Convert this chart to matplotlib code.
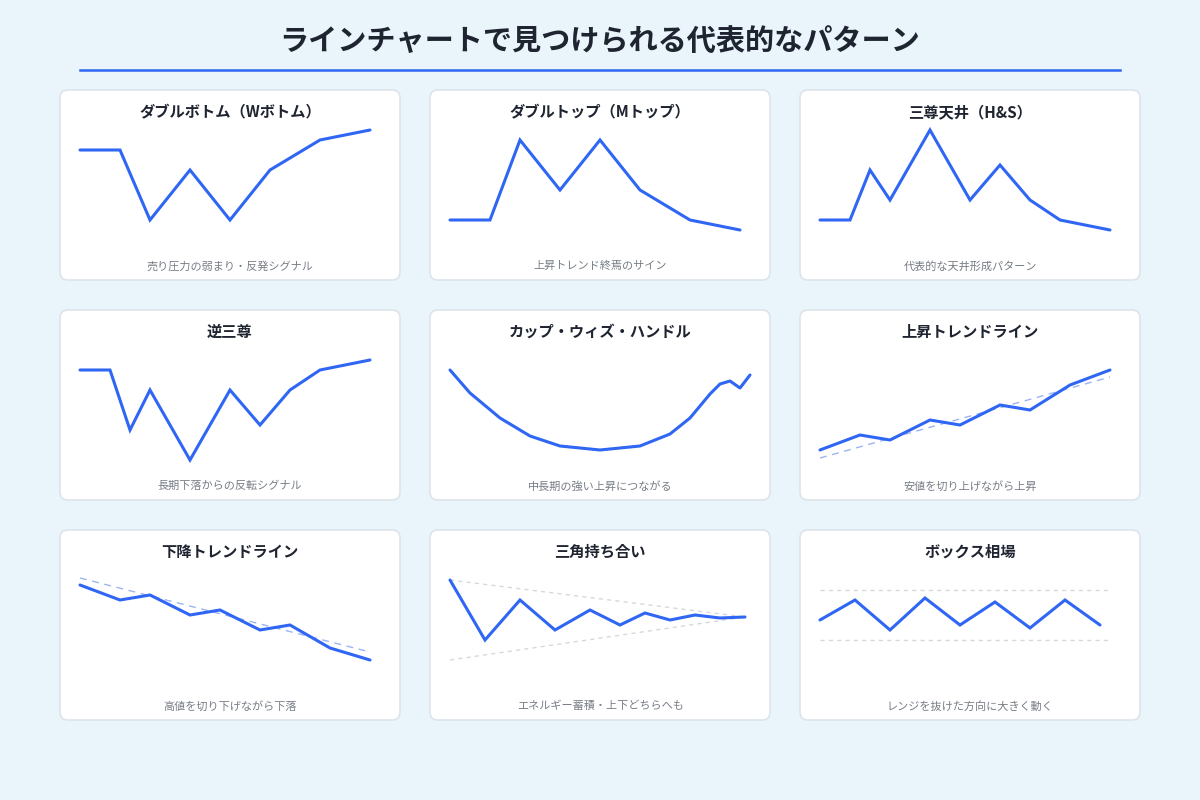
import matplotlib.pyplot as plt
from matplotlib.patches import FancyBboxPatch

plt.rcParams['font.family'] = ['Noto Sans CJK JP', 'DejaVu Sans']

BG = '#EAF4FB'
BLUE = '#2F66F3'

titles = ['ダブルボトム（Wボトム）', 'ダブルトップ（Mトップ）', '三尊天井（H&S）',
          '逆三尊', 'カップ・ウィズ・ハンドル', '上昇トレンドライン',
          '下降トレンドライン', '三角持ち合い', 'ボックス相場']
captions = ['売り圧力の弱まり・反発シグナル', '上昇トレンド終焉のサイン', '代表的な天井形成パターン',
            '長期下落からの反転シグナル', '中長期の強い上昇につながる', '安値を切り上げながら上昇',
            '高値を切り下げながら下落', 'エネルギー蓄積・上下どちらへも', 'レンジを抜けた方向に大きく動く']

# local panel coordinates (x from panel left, y from panel top, downwards)
series_x = [
    [20, 60, 90, 130, 170, 210, 260, 310],
    [20, 60, 90, 130, 170, 210, 260, 310],
    [20, 50, 70, 90, 130, 170, 200, 230, 260, 310],
    [20, 50, 70, 90, 130, 170, 200, 230, 260, 310],
    [20, 40, 70, 100, 130, 170, 210, 240, 260, 280, 290, 300, 310, 320],
    [20, 60, 90, 130, 160, 200, 230, 270, 310],
    [20, 60, 90, 130, 160, 200, 230, 270, 310],
    [20, 55, 90, 125, 160, 190, 215, 240, 265, 290, 315],
    [20, 55, 90, 125, 160, 195, 230, 265, 300],
]
series_y = [
    [60, 60, 130, 80, 130, 80, 50, 40],
    [130, 130, 50, 100, 50, 100, 130, 140],
    [130, 130, 80, 110, 40, 110, 75, 110, 130, 140],
    [60, 60, 120, 80, 150, 80, 115, 80, 60, 50],
    [60, 83, 108, 126, 136, 140, 136, 124, 108, 84, 74, 71, 78, 65],
    [140, 125, 130, 110, 115, 95, 100, 75, 60],
    [55, 70, 65, 85, 80, 100, 95, 118, 130],
    [50, 110, 70, 100, 80, 95, 83, 90, 85, 88, 87],
    [90, 70, 100, 68, 95, 72, 98, 70, 95],
]
# guide lines per panel: (x0, y0, x1, y1, style)
guides = {
    5: [(20, 148, 310, 67, 'trend')],
    6: [(20, 48, 310, 122, 'trend')],
    7: [(20, 50, 315, 87, 'range'), (20, 130, 315, 87, 'range')],
    8: [(20, 60, 310, 60, 'range'), (20, 110, 310, 110, 'range')],
}

fig = plt.figure(figsize=(12, 8), dpi=100, facecolor=BG)
ax = fig.add_axes([0, 0, 1, 1])
ax.set_xlim(0, 1200)
ax.set_ylim(800, 0)
ax.axis('off')
ax.set_facecolor(BG)

ax.text(600, 42, 'ラインチャートで見つけられる代表的なパターン', ha='center', va='center',
        fontsize=21, fontweight='bold', color='#1E2430')
ax.plot([80, 1120], [70, 70], color=BLUE, lw=1.8)

lefts = [60, 430, 800]
tops = [90, 310, 530]
W, H = 340, 190
for i in range(9):
    px, py = lefts[i % 3], tops[i // 3]
    card = FancyBboxPatch((px, py), W, H, boxstyle='round,pad=0,rounding_size=8',
                          facecolor='white', edgecolor='#DDE4EA', lw=1.2)
    ax.add_patch(card)
    ax.text(px + W / 2, py + 22, titles[i], ha='center', va='center',
            fontsize=11, fontweight='bold', color='#1E2430')
    ax.text(px + W / 2, py + 176, captions[i], ha='center', va='center',
            fontsize=8, color='#777D86')
    for x0, y0, x1, y1, kind in guides.get(i, []):
        if kind == 'trend':
            ax.plot([px + x0, px + x1], [py + y0, py + y1], color='#9DB4F2',
                    lw=1, ls=(0, (5, 4)))
        else:
            ax.plot([px + x0, px + x1], [py + y0, py + y1], color='#D5D9DE',
                    lw=1, ls=(0, (3, 3)))
    ax.plot([px + x for x in series_x[i]], [py + y for y in series_y[i]],
            color=BLUE, lw=2.2, solid_joinstyle='miter' if i != 4 else 'round',
            solid_capstyle='round')

fig.savefig('out.png', dpi=100, facecolor=BG)
